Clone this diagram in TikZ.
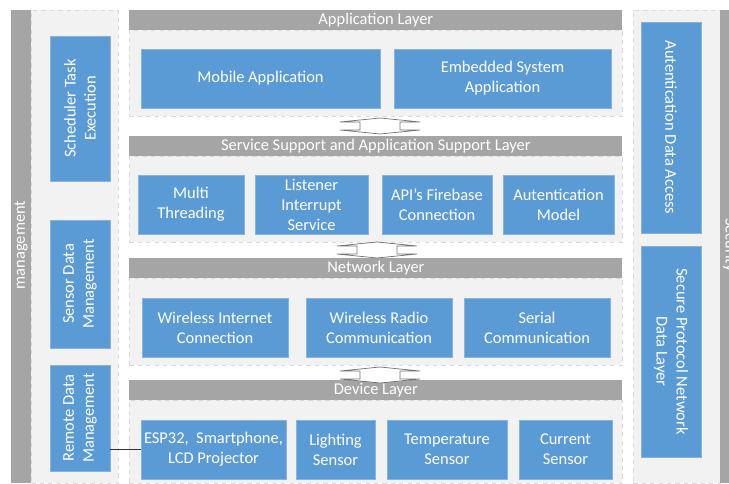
\documentclass[tikz,border=0pt]{standalone}
\usepackage{fontspec}
\setmainfont{Carlito}
\usetikzlibrary{positioning}
\definecolor{boxblue}{HTML}{5B9BD5}
\definecolor{bargray}{HTML}{A5A5A5}
\definecolor{panelgray}{HTML}{F2F2F2}

\begin{document}
\begin{tikzpicture}[x=0.025cm, y=-0.025cm] % 1 unit = 1 px of the layout
            \tikzstyle{panel} = [rectangle, anchor=north west, inner sep=0pt, draw=black!15, dashed, fill=panelgray]
            \tikzstyle{bar} = [rectangle, anchor=north west, inner sep=0pt, fill=bargray]
            \tikzstyle{barlabel} = [text=white, font=\fontsize{11.7}{14.2}\selectfont]
            \tikzstyle{box} = [rectangle, draw=boxblue!75!white, fill=boxblue, text=white, align=center, inner sep=1pt, font=\fontsize{11.7}{14.2}\selectfont]
            \tikzstyle{updown} = [draw=black!55, fill=white, line width=0.5pt]
            \tikzstyle{link} = [draw=black!80, line width=0.6pt]

            \useasboundingbox (0,0) rectangle (729,484);
            \fill[white] (0,0) rectangle (729,484);
            \clip (0,0) rectangle (729,484);

            % Side columns
            \node (mgmtbar) [bar, minimum width=0.5cm, minimum height=11.825cm] at (11,10) {};
            \node (mgmtpanel) [panel, minimum width=2.175cm, minimum height=11.825cm] at (31,10) {};
            \node (secpanel) [panel, minimum width=2.175cm, minimum height=11.825cm] at (633,10) {};
            \node (secbar) [bar, minimum width=0.5cm, minimum height=11.825cm] at (720,10) {};
            \node (mgmtlabel) [barlabel, rotate=90] at (21,245) {management};
            \node (seclabel) [barlabel, rotate=-90] at (730,245) {Security};

            % Layer panels
            \node (apppanel) [panel, minimum width=12.325cm, minimum height=2.15cm] at (129,30) {};
            \node (svcpanel) [panel, minimum width=12.325cm, minimum height=2.15cm] at (129,156) {};
            \node (netpanel) [panel, minimum width=12.325cm, minimum height=2.175cm] at (129,278) {};
            \node (devpanel) [panel, minimum width=12.325cm, minimum height=2.075cm] at (129,400) {};

            % Layer headers
            \node (appbar) [bar, minimum width=12.325cm, minimum height=0.5cm] at (129,10) {};
            \node (svcbar) [bar, minimum width=12.325cm, minimum height=0.5cm] at (129,136) {};
            \node (netbar) [bar, minimum width=12.325cm, minimum height=0.5cm] at (129,258) {};
            \node (devbar) [bar, minimum width=12.325cm, minimum height=0.5cm] at (129,380) {};
            \node [barlabel] at (appbar.center) {Application Layer};
            \node [barlabel] at (svcbar.center) {Service Support and Application Support Layer};
            \node [barlabel] at (netbar.center) {Network Layer};
            \node [barlabel] at (devbar.center) {Device Layer};

            % Management boxes
            \node (sched) [box, rotate=90, minimum width=3.625cm, minimum height=1.5cm] at (80,108.5) {Scheduler Task\\Execution};
            \node (sensor) [box, rotate=90, minimum width=3.2cm, minimum height=1.5cm] at (80,284) {Sensor Data\\Management};
            \node (remote) [box, rotate=90, minimum width=2.65cm, minimum height=1.5cm] at (80,418) {Remote Data\\Management};

            % Security boxes
            \node (authaccess) [box, rotate=-90, minimum width=5.275cm, minimum height=1.5cm] at (671,127.5) {Autentication Data Access};
            \node (secure) [box, rotate=-90, minimum width=5.275cm, minimum height=1.5cm] at (671,351.5) {Secure Protocol Network\\Data Layer};

            % Application layer
            \node (mobile) [box, minimum width=5.975cm, minimum height=1.475cm] at (260.5,78.5) {Mobile Application};
            \node (embedded) [box, minimum width=5.425cm, minimum height=1.475cm] at (502.5,78.5) {Embedded System\\Application};

            % Service support layer
            \node (multi) [box, minimum width=2.65cm, minimum height=1.475cm] at (191,204.5) {Multi\\Threading};
            \node (listener) [box, minimum width=2.825cm, minimum height=1.475cm] at (311.5,204.5) {Listener\\Interrupt\\Service};
            \node (firebase) [box, minimum width=2.75cm, minimum height=1.475cm] at (437,204.5) {API’s Firebase\\Connection};
            \node (authmodel) [box, minimum width=2.775cm, minimum height=1.475cm] at (558.5,204.5) {Autentication\\Model};

            % Network layer
            \node (wifi) [box, minimum width=3.65cm, minimum height=1.475cm] at (215,327.5) {Wireless Internet\\Connection};
            \node (radio) [box, minimum width=3.65cm, minimum height=1.475cm] at (379,327.5) {Wireless Radio\\Communication};
            \node (serial) [box, minimum width=3.65cm, minimum height=1.475cm] at (537,327.5) {Serial\\Communication};

            % Device layer
            \node (esp) [box, minimum width=3.625cm, minimum height=1.475cm] at (213.5,449.5) {ESP32,~ Smartphone,\\LCD Projector};
            \node (lighting) [box, minimum width=1.975cm, minimum height=1.475cm] at (335.5,449.5) {Lighting\\Sensor};
            \node (temp) [box, minimum width=3cm, minimum height=1.475cm] at (447,449.5) {Temperature\\Sensor};
            \node (current) [box, minimum width=2.325cm, minimum height=1.475cm] at (565.5,449.5) {Current\\Sensor};

            % Arrows between layers
            \foreach \cx/\t in {380/118, 377/242, 380/367}
                \draw [updown] (\cx,\t) -- (\cx+40,\t+4) -- (\cx+20,\t+4) -- (\cx+20,\t+12) -- (\cx+40,\t+12) -- (\cx,\t+16)
                    -- (\cx-40,\t+12) -- (\cx-20,\t+12) -- (\cx-20,\t+4) -- (\cx-40,\t+4) -- cycle;

            % Link
            \draw [link] (esp.west) -- (esp.west -| remote.south);
        \end{tikzpicture}
\end{document}
